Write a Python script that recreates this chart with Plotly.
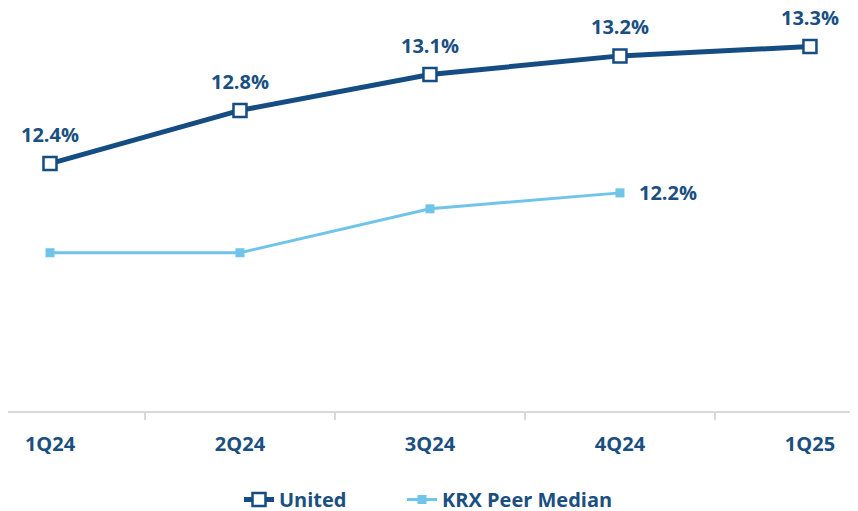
import plotly.graph_objects as go

quarters = ["1Q24", "2Q24", "3Q24", "4Q24", "1Q25"]
united = [12.41, 12.81, 13.08, 13.22, 13.29]
united_labels = ["12.4%", "12.8%", "13.1%", "13.2%", "13.3%"]
peer = [11.74, 11.74, 12.07, 12.19]
peer_labels = ["", "", "", "12.2%"]

dark = "#154c82"
light = "#71c4e9"
label_col = "#1a4f80"
font_fam = "'Open Sans', sans-serif"

x_united = list(range(len(quarters)))
x_peer = list(range(len(peer)))

fig = go.Figure()

fig.add_trace(go.Scatter(
    x=x_united, y=united, name="United",
    mode="lines+markers",
    line=dict(color=dark, width=5),
    marker=dict(symbol="square", size=13, color="white",
                line=dict(color=dark, width=2.5)),
    legend="legend",
))

fig.add_trace(go.Scatter(
    x=x_peer, y=peer, name="KRX Peer Median",
    mode="lines+markers",
    line=dict(color=light, width=3),
    marker=dict(symbol="square", size=9, color=light),
    legend="legend2",
))

# data labels
lab_font = dict(color=label_col, size=20, family=font_fam, weight="bold")
for xv, yv, t in zip(x_united, united, united_labels):
    fig.add_annotation(x=xv, y=yv, text=t, showarrow=False, yshift=29,
                       xanchor="center", yanchor="middle", font=lab_font)
for xv, yv, t in zip(x_peer, peer, peer_labels):
    if t:
        fig.add_annotation(x=xv, y=yv, text=t, showarrow=False, xshift=17,
                           xanchor="left", yanchor="middle", font=lab_font)

leg_font = dict(size=20, family=font_fam, color=label_col, weight="bold")
fig.update_layout(
    width=858, height=511,
    margin=dict(l=0, r=0, t=0, b=100),
    plot_bgcolor="white", paper_bgcolor="white",
    font=dict(family=font_fam, color=label_col),
    showlegend=True,
    legend=dict(orientation="h", x=231 / 858, xanchor="left", y=-0.22, yanchor="middle",
                font=leg_font, bgcolor="rgba(0,0,0,0)"),
    legend2=dict(orientation="h", x=394 / 858, xanchor="left", y=-0.22, yanchor="middle",
                 font=leg_font, bgcolor="rgba(0,0,0,0)"),
    xaxis=dict(
        range=[-0.221, 4.295],
        tickvals=x_united, ticktext=quarters,
        tickfont=dict(size=20, family=font_fam, color=label_col, weight="bold"),
        ticks="", showgrid=False, zeroline=False, automargin=False,
        showline=True, linecolor="#d9d9d9", linewidth=2,
        ticklabelstandoff=14,
        minor=dict(tickvals=[0.5, 1.5, 2.5, 3.5], ticks="outside",
                   ticklen=7, tickcolor="#d9d9d9", tickwidth=1.5),
    ),
    yaxis=dict(range=[10.55, 13.58], visible=False, showgrid=False, zeroline=False),
)

fig.write_html("out.html")
